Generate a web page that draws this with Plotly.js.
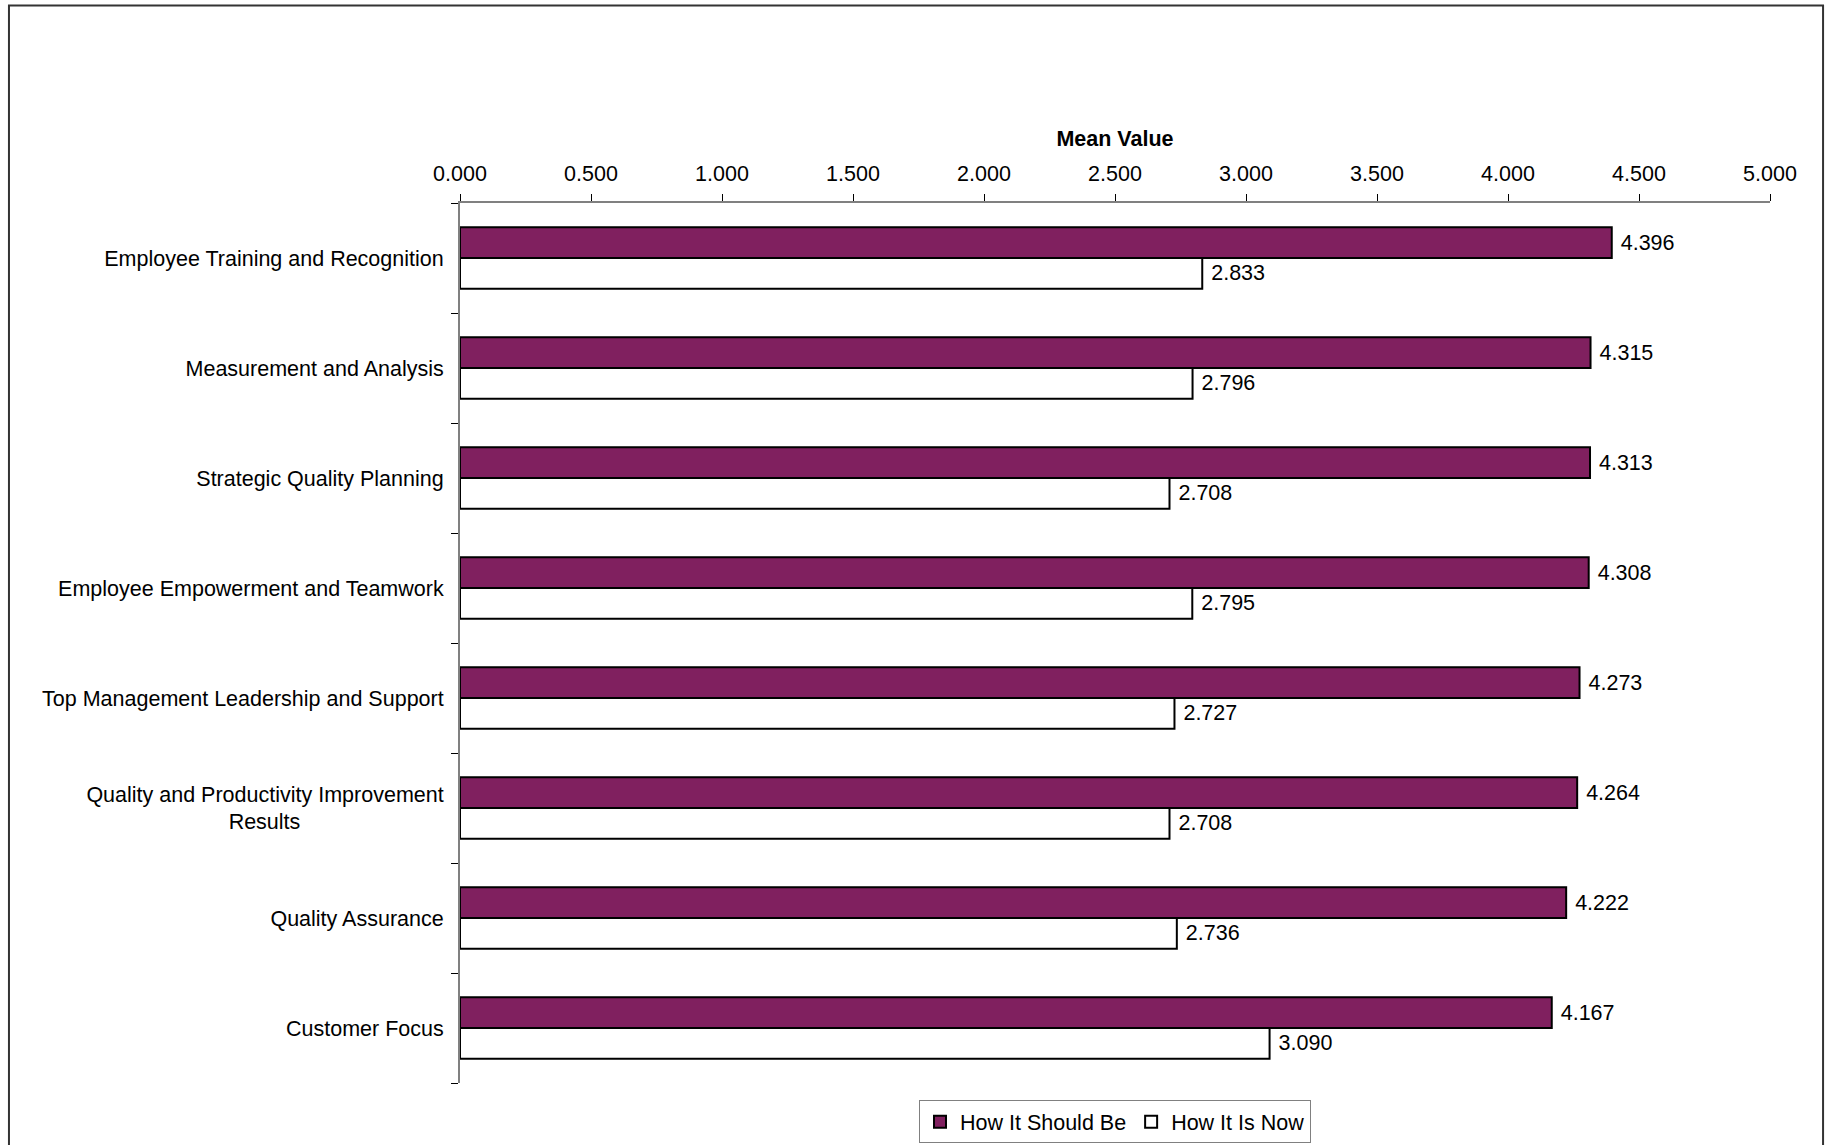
<!DOCTYPE html>
<html>
<head>
<meta charset="utf-8">
<script src="https://cdn.plot.ly/plotly-3.0.1.min.js"></script>
<style>
  html, body { margin: 0; padding: 0; background: #ffffff; }
  #chart { width: 1832px; height: 1145px; }
</style>
</head>
<body>
<div id="chart"></div>
<script>
// ---- Data ----
const categories = [
  "Employee Training and Recognition",
  "Measurement and Analysis",
  "Strategic Quality Planning",
  "Employee Empowerment and Teamwork",
  "Top Management Leadership and Support",
  "Quality and Productivity Improvement Results",
  "Quality Assurance",
  "Customer Focus"
];
const categoryLabels = [
  "Employee Training and Recognition",
  "Measurement and Analysis",
  "Strategic Quality Planning",
  "Employee Empowerment and Teamwork",
  "Top Management Leadership and Support",
  "Quality and Productivity Improvement<br>Results" + "\u00A0".repeat(24),
  "Quality Assurance",
  "Customer Focus"
];
const seriesNames = ["How It Should Be", "How It Is Now"];
const howItShouldBe = [4.396, 4.315, 4.313, 4.308, 4.273, 4.264, 4.222, 4.167];
const howItIsNow    = [2.833, 2.796, 2.708, 2.795, 2.727, 2.708, 2.736, 3.090];
const xTickValues = [0, 0.5, 1, 1.5, 2, 2.5, 3, 3.5, 4, 4.5, 5];

const FONT = "Liberation Sans, Arial, Helvetica, sans-serif";
const FS = 21.5;

const traces = [
  {
    type: "bar", orientation: "h", name: seriesNames[0],
    y: categories, x: howItShouldBe,
    marker: { color: "#80205F", line: { color: "#000000", width: 2 } },
    texttemplate: "\u00A0%{x:.3f}", textposition: "outside", cliponaxis: false,
    constraintext: "none",
    textfont: { family: FONT, size: FS, color: "#000000" },
    hoverinfo: "x+y+name"
  },
  {
    type: "bar", orientation: "h", name: seriesNames[1],
    y: categories, x: howItIsNow,
    marker: { color: "#FFFFFF", line: { color: "#000000", width: 2 } },
    texttemplate: "\u00A0%{x:.3f}", textposition: "outside", cliponaxis: false,
    constraintext: "none",
    textfont: { family: FONT, size: FS, color: "#000000" },
    hoverinfo: "x+y+name"
  }
];

const layout = {
  width: 1832, height: 1145,
  margin: { l: 460, r: 62, t: 203, b: 62, autoexpand: false },
  paper_bgcolor: "#ffffff", plot_bgcolor: "#ffffff",
  font: { family: FONT, size: FS, color: "#000000" },
  barmode: "group",
  bargap: 0.44, bargroupgap: 0,
  showlegend: true,
  legend: {
    orientation: "h", x: 0.5, xanchor: "center", y: -0.0195, yanchor: "top",
    bordercolor: "#808080", borderwidth: 1, bgcolor: "#ffffff",
    font: { family: FONT, size: FS, color: "#000000" },
    itemwidth: 30, traceorder: "normal"
  },
  xaxis: {
    side: "top", range: [0, 5], tickmode: "array", tickvals: xTickValues,
    tickformat: ".3f", showgrid: false, zeroline: false,
    showline: true, linecolor: "#808080", linewidth: 2,
    ticks: "outside", ticklen: 7, tickwidth: 1, tickcolor: "#000000",
    ticklabelstandoff: 4,
    tickfont: { family: FONT, size: FS, color: "#000000" },
    title: { text: "<b>Mean Value</b>", standoff: 10, font: { family: FONT, size: FS, color: "#000000" } },
    fixedrange: true
  },
  xaxis2: {
    overlaying: "x", side: "top", anchor: "y", range: [0, 5],
    tickmode: "array", tickvals: xTickValues, showticklabels: false,
    ticks: "inside", ticklen: 7, tickwidth: 1, tickcolor: "#000000",
    showgrid: false, zeroline: false, showline: false, fixedrange: true
  },
  yaxis: {
    type: "category", autorange: "reversed",
    tickmode: "array", tickvals: categories, ticktext: categoryLabels,
    tickson: "boundaries", ticks: "outside", ticklen: 7, tickwidth: 1, tickcolor: "#000000",
    ticklabelstandoff: 10,
    showgrid: false, zeroline: false,
    showline: true, linecolor: "#808080", linewidth: 2,
    tickfont: { family: FONT, size: FS, color: "#000000" },
    fixedrange: true
  },
  yaxis2: {
    overlaying: "y", side: "left", anchor: "x", type: "linear",
    range: [categories.length - 0.5, -0.5],
    tickmode: "linear", tick0: -0.5, dtick: 1, showticklabels: false,
    ticks: "inside", ticklen: 7, tickwidth: 1, tickcolor: "#000000",
    showgrid: false, zeroline: false, showline: false, fixedrange: true
  },
  shapes: [
    { type: "rect", xref: "paper", yref: "paper",
      x0: -0.3443, x1: 1.0405, y0: -0.09, y1: 1.2245,
      line: { color: "#333333", width: 2 }, fillcolor: "rgba(0,0,0,0)", layer: "below" }
  ]
};

Plotly.newPlot("chart", traces, layout, { displayModeBar: false, responsive: false, staticPlot: true });
</script>
</body>
</html>
